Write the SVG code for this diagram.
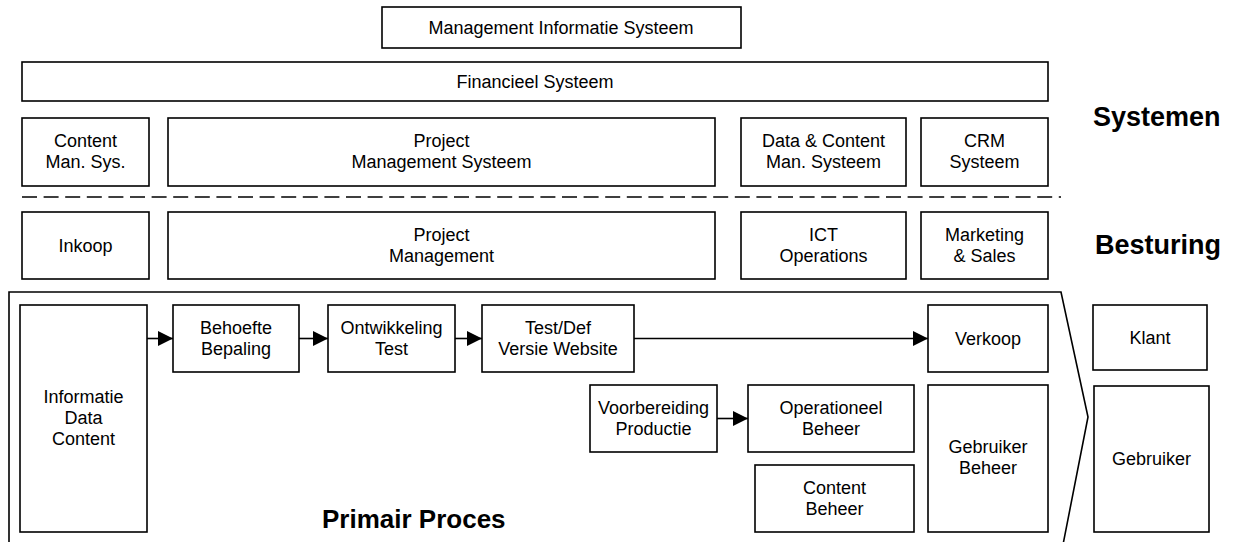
<svg xmlns="http://www.w3.org/2000/svg" width="1234" height="542" viewBox="0 0 1234 542">
<style>
.b{fill:#fff;stroke:#000;stroke-width:1.6}
.t{font-family:"Liberation Sans",Arial,sans-serif;font-size:18px;fill:#000;text-anchor:middle}
.h{font-family:"Liberation Sans",Arial,sans-serif;font-size:27px;font-weight:bold;fill:#000}
.c{stroke:#000;stroke-width:1.6;fill:none}
</style>
<defs>
<marker id="ah" markerWidth="15" markerHeight="15" refX="15" refY="7.5" orient="auto" markerUnits="userSpaceOnUse"><path d="M0,0 L15,7.5 L0,15 Z" fill="#000"/></marker>
</defs>
<rect width="1234" height="542" fill="#fff"/>
<g id="primair-outline"><polygon class="c" points="9,560 9,292 1061,292 1088,417 1060,560"/></g>
<g id="mis"><rect class="b" x="382" y="7" width="359" height="41"/><text class="t" x="561" y="34">Management Informatie Systeem</text></g>
<g id="financieel"><rect class="b" x="22" y="62" width="1026" height="39"/><text class="t" x="535" y="88">Financieel Systeem</text></g>
<g id="cms"><rect class="b" x="22" y="118" width="127" height="68"/><text class="t" x="85.5" y="147">Content</text><text class="t" x="85.5" y="168">Man. Sys.</text></g>
<g id="pms"><rect class="b" x="168" y="118" width="547" height="68"/><text class="t" x="441.5" y="147">Project</text><text class="t" x="441.5" y="168">Management Systeem</text></g>
<g id="dcms"><rect class="b" x="741" y="118" width="165" height="68"/><text class="t" x="823.5" y="147">Data &amp; Content</text><text class="t" x="823.5" y="168">Man. Systeem</text></g>
<g id="crm"><rect class="b" x="921" y="118" width="127" height="68"/><text class="t" x="984.5" y="147">CRM</text><text class="t" x="984.5" y="168">Systeem</text></g>
<g id="lbl-systemen"><text class="h" x="1093" y="126">Systemen</text></g>
<line x1="22" y1="197" x2="1061" y2="197" stroke="#000" stroke-width="1.6" stroke-dasharray="15 6.6"/>
<g id="inkoop"><rect class="b" x="22" y="212" width="127" height="67"/><text class="t" x="85.5" y="252">Inkoop</text></g>
<g id="pm"><rect class="b" x="168" y="212" width="547" height="67"/><text class="t" x="441.5" y="241">Project</text><text class="t" x="441.5" y="262">Management</text></g>
<g id="ict"><rect class="b" x="741" y="212" width="165" height="67"/><text class="t" x="823.5" y="241">ICT</text><text class="t" x="823.5" y="262">Operations</text></g>
<g id="marketing"><rect class="b" x="921" y="212" width="127" height="67"/><text class="t" x="984.5" y="241">Marketing</text><text class="t" x="984.5" y="262">&amp; Sales</text></g>
<g id="lbl-besturing"><text class="h" x="1095" y="254">Besturing</text></g>
<g id="informatie"><rect class="b" x="20" y="305" width="127" height="227"/><text class="t" x="83.5" y="403">Informatie</text><text class="t" x="83.5" y="424">Data</text><text class="t" x="83.5" y="445">Content</text></g>
<g id="behoefte"><rect class="b" x="173" y="305" width="126" height="67"/><text class="t" x="236" y="334">Behoefte</text><text class="t" x="236" y="355">Bepaling</text></g>
<g id="ontwikkeling"><rect class="b" x="328" y="305" width="127" height="67"/><text class="t" x="391.5" y="334">Ontwikkeling</text><text class="t" x="391.5" y="355">Test</text></g>
<g id="testdef"><rect class="b" x="482" y="305" width="152" height="67"/><text class="t" x="558" y="334">Test/Def</text><text class="t" x="558" y="355">Versie Website</text></g>
<g id="verkoop"><rect class="b" x="928" y="305" width="120" height="67"/><text class="t" x="988" y="345">Verkoop</text></g>
<g id="voorbereiding"><rect class="b" x="590" y="385" width="127" height="67"/><text class="t" x="653.5" y="414">Voorbereiding</text><text class="t" x="653.5" y="435">Productie</text></g>
<g id="operationeel"><rect class="b" x="748" y="385" width="166" height="67"/><text class="t" x="831" y="414">Operationeel</text><text class="t" x="831" y="435">Beheer</text></g>
<g id="contentbeheer"><rect class="b" x="755" y="465" width="159" height="67"/><text class="t" x="834.5" y="494">Content</text><text class="t" x="834.5" y="515">Beheer</text></g>
<g id="gebruikerbeheer"><rect class="b" x="928" y="385" width="120" height="147"/><text class="t" x="988" y="453">Gebruiker</text><text class="t" x="988" y="474">Beheer</text></g>
<g id="klant"><rect class="b" x="1093" y="305" width="114" height="65"/><text class="t" x="1150" y="344">Klant</text></g>
<g id="gebruiker"><rect class="b" x="1094" y="386" width="115" height="146"/><text class="t" x="1151.5" y="465">Gebruiker</text></g>
<g id="lbl-primair"><text class="h" x="322" y="528" style="font-size:26px">Primair Proces</text></g>
<g id="connectors">
<line class="c" x1="147" y1="338.5" x2="173" y2="338.5" marker-end="url(#ah)"/>
<line class="c" x1="299" y1="338.5" x2="328" y2="338.5" marker-end="url(#ah)"/>
<line class="c" x1="455" y1="338.5" x2="482" y2="338.5" marker-end="url(#ah)"/>
<line class="c" x1="634" y1="338.5" x2="928" y2="338.5" marker-end="url(#ah)"/>
<line class="c" x1="717" y1="418.5" x2="748" y2="418.5" marker-end="url(#ah)"/>
</g>
</svg>
